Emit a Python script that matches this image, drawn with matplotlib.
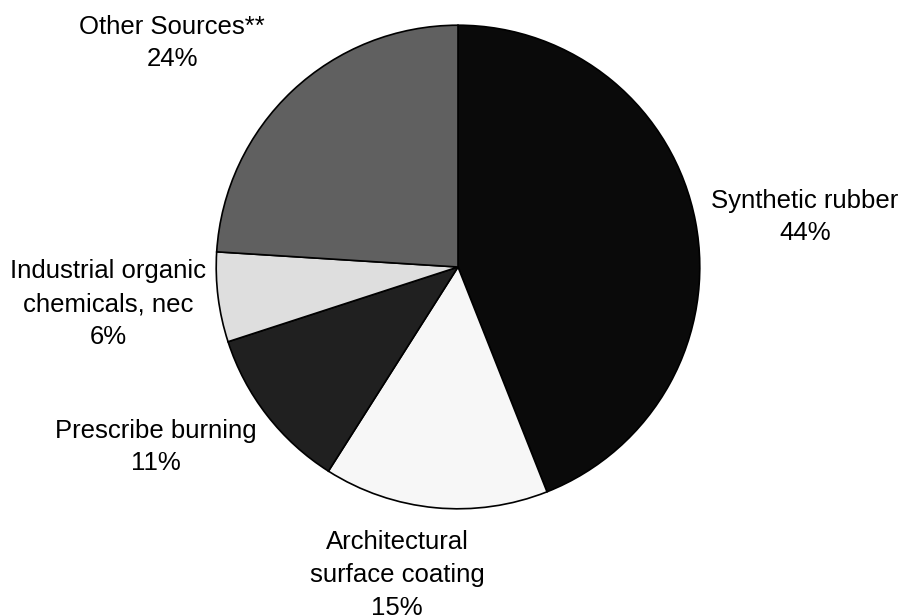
import matplotlib
matplotlib.use("Agg")
import matplotlib.pyplot as plt

categories = ["Synthetic rubber", "Architectural\nsurface coating", "Prescribe burning",
              "Industrial organic\nchemicals, nec", "Other Sources**"]
values = [44, 15, 11, 6, 24]
colors = ["#0a0a0a", "#f7f7f7", "#202020", "#dedede", "#606060"]
# label centres in pixels (x from left, y from top)
label_pos = [(805, 217), (397, 575), (156, 447), (108, 304), (172, 43)]

W, H = 906, 615
fig = plt.figure(figsize=(W / 100, H / 100), dpi=100)
cx, cy, r = 458, 267, 243
ax = fig.add_axes([(cx - r) / W, (H - cy - r) / H, 2 * r / W, 2 * r / H])
ax.pie(values, colors=colors, startangle=90, counterclock=False,
       wedgeprops=dict(edgecolor="black", linewidth=1.2))
ax.set_xlim(-1.005, 1.005)
ax.set_ylim(-1.005, 1.005)
ax.set_aspect("equal")
ax.axis("off")

for cat, val, (px, py) in zip(categories, values, label_pos):
    fig.text(px / W, 1 - py / H, f"{cat}\n{val}%", ha="center", va="center",
             multialignment="center", fontsize=18.5, family="Liberation Sans",
             linespacing=1.45)

fig.savefig("out.png", dpi=100)
